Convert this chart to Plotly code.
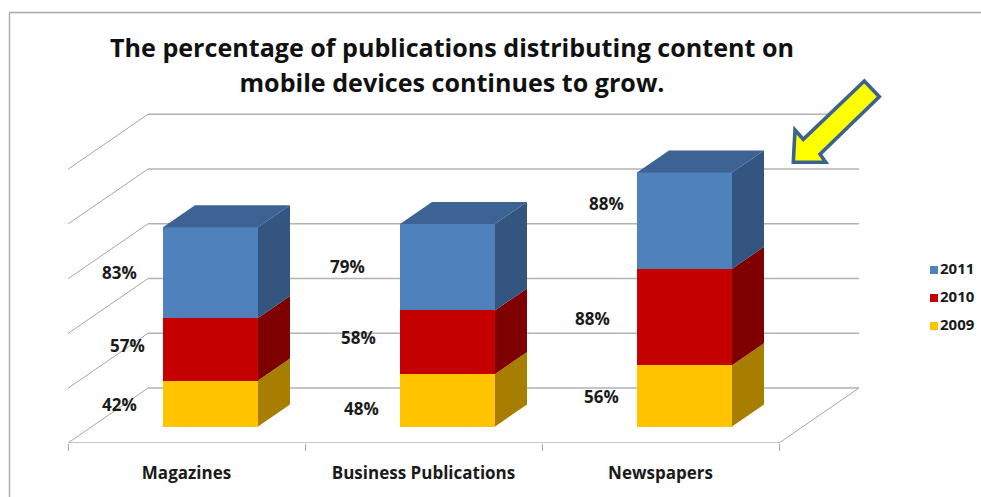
import plotly.graph_objects as go

# Survey results, one list per year
categories = ["Magazines", "Business Publications", "Newspapers"]
years = ["2009", "2010", "2011"]
values_2009 = [42, 48, 56]
values_2010 = [57, 58, 88]
values_2011 = [83, 79, 88]
wall_levels = [0, 50, 100, 150, 200, 250]

front_colors = {"2009": "#FFC300", "2010": "#C40000", "2011": "#4F81BD"}
side_colors = {"2009": "#A87E00", "2010": "#7F0000", "2011": "#34557F"}
top_color = "#3C6394"
line_color = "#B2B2B2"
font_family = "'Open Sans', sans-serif"
text_color = "#1A1A1A"

W, H = 981, 497
# Plot rectangle in page pixels
LEFT, RIGHT, TOP, BOTTOM = 50, 981, 100, 443
UNIT_X = 237.0       # pixels per category
UNIT_Y = 1.095       # pixels per percentage point
ORIGIN_X = 186.5     # pixel of the first category on the front edge of the floor
ORIGIN_Y = 426.5     # pixel of zero at the front face of the bars

# Oblique projection: full floor depth expressed in axis units
DEPTH_X = 80.0 / UNIT_X
DEPTH_Y = 55.0 / UNIT_Y
BAR_WIDTH = 95.0 / UNIT_X
BAR_START = 0.3      # share of the floor depth in front of the bars
BAR_DEPTH = 0.4      # share of the floor depth taken by the bars
FLOOR_Y = -BAR_START * DEPTH_Y


def data_x(px):
    return (px - ORIGIN_X) / UNIT_X


def data_y(py):
    return (ORIGIN_Y - py) / UNIT_Y


def paper_x(px):
    return (px - LEFT) / (RIGHT - LEFT)


def paper_y(py):
    return (BOTTOM - py) / (BOTTOM - TOP)


series = {"2009": values_2009, "2010": values_2010, "2011": values_2011}
fig = go.Figure()

bar_x = [i + BAR_START * DEPTH_X for i in range(len(categories))]
for year in years:
    fig.add_trace(go.Bar(x=bar_x, y=series[year], width=BAR_WIDTH, name=year,
                         marker=dict(color=front_colors[year], line_width=0),
                         showlegend=False, hoverinfo="skip"))

# Right-hand and top faces of each stacked column
step_x = BAR_DEPTH * DEPTH_X
step_y = BAR_DEPTH * DEPTH_Y
for i, cx in enumerate(bar_x):
    right = cx + BAR_WIDTH / 2
    left = cx - BAR_WIDTH / 2
    base = 0
    for year in years:
        top = base + series[year][i]
        fig.add_trace(go.Scatter(
            x=[right, right + step_x, right + step_x, right, right],
            y=[base, base + step_y, top + step_y, top, base],
            mode="lines", fill="toself", fillcolor=side_colors[year],
            line=dict(width=0), showlegend=False, hoverinfo="skip"))
        base = top
    fig.add_trace(go.Scatter(
        x=[left, right, right + step_x, left + step_x, left],
        y=[base, base, base + step_y, base + step_y, base],
        mode="lines", fill="toself", fillcolor=top_color,
        line=dict(width=0), showlegend=False, hoverinfo="skip"))

# Back wall, side wall and floor rules sit behind the columns
shapes = []
back_left = -0.5 + DEPTH_X
back_right = 2.5 + DEPTH_X
for level in wall_levels:
    y_back = level + FLOOR_Y + DEPTH_Y
    y_front = level + FLOOR_Y
    shapes.append(dict(type="line", xref="x", yref="y", layer="below",
                       x0=back_left, x1=back_right, y0=y_back, y1=y_back,
                       line=dict(color=line_color, width=1.6)))
    shapes.append(dict(type="line", xref="x", yref="y", layer="below",
                       x0=-0.5, x1=back_left, y0=y_front, y1=y_back,
                       line=dict(color="#A6A6A6", width=1)))
shapes.append(dict(type="line", xref="x", yref="y", layer="below",
                   x0=-0.5, x1=2.5, y0=FLOOR_Y, y1=FLOOR_Y,
                   line=dict(color=line_color, width=1.6)))
shapes.append(dict(type="line", xref="x", yref="y", layer="below",
                   x0=2.5, x1=back_right, y0=FLOOR_Y, y1=FLOOR_Y + DEPTH_Y,
                   line=dict(color="#A6A6A6", width=1)))

# Slide frame along the top and left edges
for x0, y0, x1, y1 in [(9.5, 12.5, W, 12.5), (9.5, 12.5, 9.5, H)]:
    shapes.append(dict(type="line", xref="paper", yref="paper", layer="below",
                       x0=paper_x(x0), y0=paper_y(y0), x1=paper_x(x1), y1=paper_y(y1),
                       line=dict(color="#A8A8A8", width=1.4)))

# Callout arrow pointing at the newspapers column
arrow_px = [(795, 130), (803.3, 139.3), (864.3, 81), (879.3, 96.7),
            (820, 154.3), (825.7, 162.3), (793.3, 162.3)]
arrow_path = "M" + " L".join(f"{paper_x(a):.4f},{paper_y(b):.4f}" for a, b in arrow_px) + " Z"
shapes.append(dict(type="path", xref="paper", yref="paper", layer="above", path=arrow_path,
                   fillcolor="#FFFF00", line=dict(color="#3B6391", width=3.6)))

# Value labels beside the columns
label_texts = ["42%", "57%", "83%", "48%", "58%", "79%", "56%", "88%", "88%"]
label_px_x = [119, 127, 119, 361, 358, 347, 601, 592, 606]
label_px_y = [404, 345, 272, 408, 337, 266, 396, 318, 203]
annotations = [dict(x=data_x(px), y=data_y(py), xref="x", yref="y", text=f"<b>{t}</b>",
                    showarrow=False, font=dict(family=font_family, size=17, color=text_color))
               for t, px, py in zip(label_texts, label_px_x, label_px_y)]

# Hand-placed key so the swatches stay small and tight to their labels
key_px_y = {"2011": 270, "2010": 298, "2009": 326}
for year in reversed(years):
    fig.add_trace(go.Scatter(
        x=[data_x(934)], y=[data_y(key_px_y[year])], mode="markers+text",
        marker=dict(symbol="square", size=8, color=front_colors[year]),
        text=[f"<b>{year}</b>"], textposition="middle right",
        textfont=dict(family=font_family, size=15, color=text_color),
        showlegend=False, name=year, hoverinfo="skip"))

fig.update_layout(
    width=W, height=H,
    margin=dict(l=LEFT, r=W - RIGHT, t=TOP, b=H - BOTTOM),
    paper_bgcolor="white", plot_bgcolor="white",
    barmode="stack", showlegend=False,
    shapes=shapes, annotations=annotations,
    title=dict(
        text='<b><span style="font-size:25.1px">The percentage of publications distributing content on'
             '<br>mobile devices continues to grow.</span></b>',
        x=452 / W, xanchor="center", y=1 - 57 / H, yanchor="top", yref="container",
        pad=dict(t=0),
        font=dict(family=font_family, size=27, color="#111111")),
    xaxis=dict(
        range=[data_x(LEFT), data_x(RIGHT)], tickmode="array", tickvals=[0, 1, 2],
        ticktext=[f"<b>{c}</b>" for c in categories], ticks="", showgrid=False,
        zeroline=False, showline=False, ticklabelstandoff=18,
        tickfont=dict(family=font_family, size=17, color=text_color),
        minor=dict(tickmode="array", tickvals=[-0.5, 0.5, 1.5, 2.5], ticks="outside",
                   ticklen=7, tickwidth=1, tickcolor="#A6A6A6", showgrid=False)),
    yaxis=dict(range=[data_y(BOTTOM), data_y(TOP)], visible=False),
)

fig.write_html("out.html")
